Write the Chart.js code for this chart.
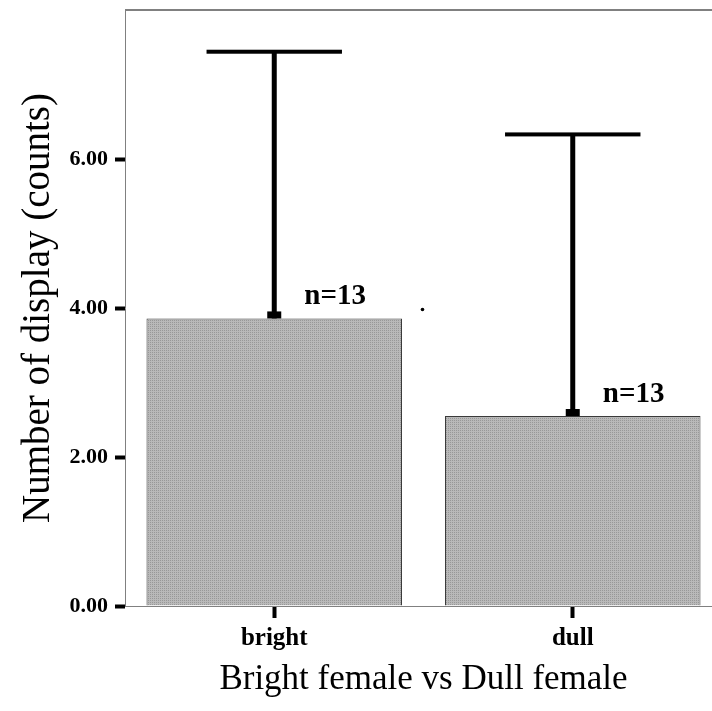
<!DOCTYPE html>
<html>
<head>
<meta charset="utf-8">
<script src="https://cdn.jsdelivr.net/npm/chart.js@4"></script>
<style>
    body { margin: 0; overflow: hidden; background: #fff; }
    #wrap { width: 724px; height: 711px; }
</style>
</head>
<body>
<div id="wrap"><canvas id="myChart" width="724" height="711"></canvas></div>
<script>
const categories = ['bright', 'dull'];
const means = [3.86, 2.55];
const errorTops = [7.44, 6.33];
const counts = [13, 13];
const yMax = 8;
const yStep = 2;

const serif = "'Liberation Serif', 'Times New Roman', serif";


function makePattern() {
    const p = document.createElement('canvas');
    p.width = 2;
    p.height = 2;
    const c = p.getContext('2d');
    c.fillStyle = '#b9b9b9';
    c.fillRect(0, 0, 2, 2);
    c.fillStyle = '#989898';
    c.fillRect(0, 0, 1, 1);
    return document.getElementById('myChart').getContext('2d').createPattern(p, 'repeat');
}


// error bars, n labels and the frame line on top
const errorBarPlugin = {
    id: 'errorBars',
    afterDatasetsDraw(chart) {
        const ctx = chart.ctx;
        const x = chart.scales.x;
        const y = chart.scales.y;
        const meta = chart.getDatasetMeta(0);
        ctx.save();
        ctx.fillStyle = '#000';
        for (let i = 0; i < categories.length; i++) {
            const bar = meta.data[i];
            const cx = x.getPixelForValue(i);
            const yBase = y.getPixelForValue(means[i]);
            const yTop = y.getPixelForValue(errorTops[i]);
            const capHalf = bar.width * 0.265;
            ctx.fillRect(cx - 2.5, yTop, 5, yBase - yTop);
            ctx.fillRect(cx - capHalf, yTop - 2, capHalf * 2, 4);
            ctx.fillRect(cx - 7, yBase - 7, 14, 7);

            ctx.font = 'bold 29px ' + serif;
            ctx.textAlign = 'left';
            ctx.textBaseline = 'alphabetic';
            ctx.fillText('n=' + counts[i], cx + 30, yBase - 14);
        }
        // stray dot between the bars
        ctx.beginPath();
        const dx = (x.getPixelForValue(0) + x.getPixelForValue(1)) / 2;
        ctx.arc(dx - 1, y.getPixelForValue(3.98), 1.8, 0, Math.PI * 2);
        ctx.fill();

        ctx.strokeStyle = '#808080';
        ctx.lineWidth = 2;
        ctx.beginPath();
        ctx.moveTo(chart.chartArea.left, chart.chartArea.top);
        ctx.lineTo(chart.chartArea.right + 2, chart.chartArea.top);
        ctx.stroke();
        ctx.restore();
    }
};


function init() {
    const ctx = document.getElementById('myChart').getContext('2d');
    new Chart(ctx, {
        type: 'bar',
        data: {
            labels: categories,
            datasets: [{
                data: means,
                backgroundColor: makePattern(),
                borderColor: '#3a3a3a',
                borderWidth: 1,
                barPercentage: 0.856,
                categoryPercentage: 1
            }]
        },
        options: {
            responsive: false,
            animation: false,
            layout: { padding: { top: 10, right: 2, left: 0, bottom: 0 } },
            plugins: {
                legend: { display: false },
                tooltip: { enabled: false }
            },
            scales: {
                x: {
                    afterFit: scale => {
                        scale.height = 105;
                        scale.paddingLeft = 0;
                        scale.paddingRight = 0;
                    },
                    grid: {
                        drawOnChartArea: false,
                        tickLength: 12,
                        tickWidth: 4,
                        tickColor: '#000',
                        offset: false
                    },
                    border: { display: true, color: '#808080', width: 1 },
                    ticks: {
                        color: '#000',
                        padding: 6,
                        font: { family: serif, size: 25, weight: 'bold' }
                    },
                    title: {
                        display: true,
                        text: 'Bright female vs Dull female',
                        color: '#000',
                        padding: { bottom: 10 },
                        font: { family: serif, size: 35 }
                    }
                },
                y: {
                    min: 0,
                    max: yMax,
                    afterFit: scale => {
                        scale.width = 125;
                        scale.paddingTop = 0;
                        scale.paddingBottom = 0;
                    },
                    grid: {
                        drawOnChartArea: false,
                        tickLength: 10,
                        tickWidth: 4,
                        tickColor: '#000'
                    },
                    border: { display: true, color: '#808080', width: 1 },
                    ticks: {
                        stepSize: yStep,
                        color: '#000',
                        padding: 7,
                        font: { family: serif, size: 22, weight: 'bold' },
                        callback: v => v >= yMax ? null : v.toFixed(2)
                    },
                    title: {
                        display: true,
                        text: 'Number of display (counts)',
                        color: '#000',
                        padding: { top: 15 },
                        font: { family: serif, size: 39 }
                    }
                }
            }
        },
        plugins: [errorBarPlugin]
    });
}

init();
</script>
</body>
</html>
